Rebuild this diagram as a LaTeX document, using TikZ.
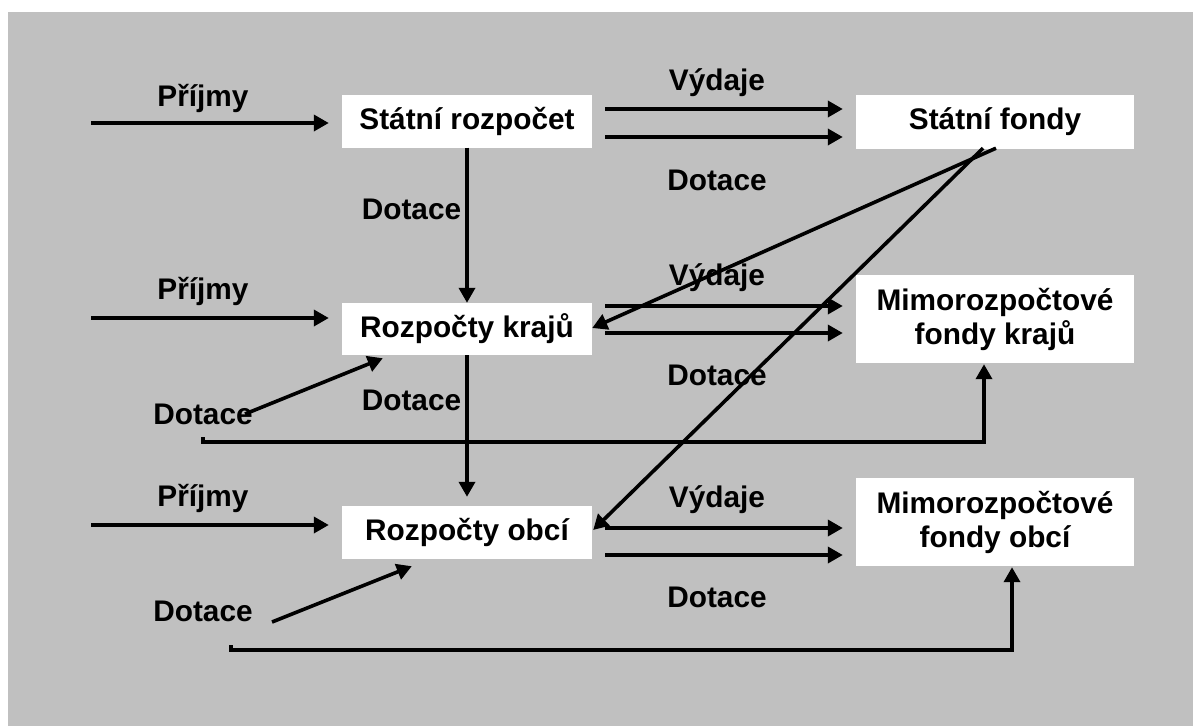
\documentclass[tikz,border=0pt]{standalone}
\usepackage{fontspec}
\setmainfont{Liberation Sans}
\usetikzlibrary{arrows.meta,calc}
\definecolor{bg}{RGB}{192,192,192}
\begin{document}
\begin{tikzpicture}[x=1pt,y=-1pt,
  box/.style={fill=white,inner sep=0pt,align=center,font=\bfseries\fontsize{29.8}{34}\selectfont},
  lbl/.style={inner sep=0pt,font=\bfseries\fontsize{29.8}{34}\selectfont},
  arr/.style={line width=3.6pt,-{Triangle[length=15pt,width=16pt]}}]
\useasboundingbox (0,0) rectangle (1193,726);
\fill[white] (0,0) rectangle (1193,726);
\fill[bg] (8,12) rectangle (1193,726);
% boxes
\node[box,minimum width=250pt,minimum height=53pt] (sr) at (467,121) {Státní rozpočet};
\node[box,minimum width=278pt,minimum height=54pt] (sf) at (995,122) {Státní fondy};
\node[box,minimum width=250pt,minimum height=52pt] (rk) at (467,329) {Rozpočty krajů};
\node[box,minimum width=278pt,minimum height=88pt] (mk) at (995,319) {Mimorozpočtové\\fondy krajů};
\node[box,minimum width=250pt,minimum height=53pt] (ro) at (467,532.5) {Rozpočty obcí};
\node[box,minimum width=278pt,minimum height=88pt] (mo) at (995,522) {Mimorozpočtové\\fondy obcí};
% labels
\node[lbl] (p1) at (203,98) {Příjmy};
\node[lbl] (p2) at (203,291) {Příjmy};
\node[lbl] (p3) at (203,498) {Příjmy};
\node[lbl] (v1) at (717,83) {Výdaje};
\node[lbl] (d1) at (717,180) {Dotace};
\node[lbl] (v2) at (717,278) {Výdaje};
\node[lbl] (d2) at (717,375) {Dotace};
\node[lbl] (v3) at (717,500) {Výdaje};
\node[lbl] (d3) at (717,597) {Dotace};
\node[lbl] (dv1) at (411.5,209) {Dotace};
\node[lbl] (dv2) at (411.5,400) {Dotace};
\node[lbl] (dl1) at (203,414) {Dotace};
\node[lbl] (dl2) at (203,611) {Dotace};
% coordinates
\coordinate (a1) at (91,123);
\coordinate (a2) at (91,318);
\coordinate (a3) at (91,525);
\coordinate (t1) at (203,437);
\coordinate (t1b) at (203,442);
\coordinate (t2) at (231,645);
\coordinate (t2b) at (231,650);
\coordinate (mkin) at ($(mk.south)+(-11,1)$);
\coordinate (moin) at ($(mo.south)+(17,1)$);
\coordinate (l1) at (245,414);
\coordinate (l2) at (272,622);
% Prijmy arrows
\draw[arr] (a1) -- ($(sr.west|-a1)+(-13,0)$);
\draw[arr] (a2) -- ($(rk.west|-a2)+(-13,0)$);
\draw[arr] (a3) -- ($(ro.west|-a3)+(-13,0)$);
% Vydaje / Dotace pairs
\draw[arr] ($(sr.east)+(13,-12)$) -- ($(sf.west)+(-13,-13)$);
\draw[arr] ($(sr.east)+(13,16)$) -- ($(sf.west)+(-13,15)$);
\draw[arr] ($(rk.east)+(13,-23)$) -- ($(mk.west)+(-13,-13)$);
\draw[arr] ($(rk.east)+(13,4)$) -- ($(mk.west)+(-13,14)$);
\draw[arr] ($(ro.east)+(13,-4.5)$) -- ($(mo.west)+(-13,6)$);
\draw[arr] ($(ro.east)+(13,22.5)$) -- ($(mo.west)+(-13,33)$);
% vertical Dotace
\draw[arr] (sr.south) -- (rk.north);
\draw[arr] (rk.south) -- ($(ro.north)+(0,-9)$);
% left Dotace arrows
\draw[arr] (l1) -- ($(rk.south west)+(41,3)$);
\draw[arr] (l2) -- ($(ro.south west)+(70,7)$);
\draw[arr] (t1) -- (t1b) -- (mkin|-t1b) -- (mkin);
\draw[arr] (t2) -- (t2b) -- (moin|-t2b) -- (moin);
% diagonals from Statni fondy
\draw[arr] ($(sf.south)+(1,-1)$) -- ($(rk.east)+(0,-1)$);
\draw[arr] ($(sf.south)+(-12,-1)$) -- ($(ro.east)+(1,-2.5)$);
\end{tikzpicture}
\end{document}
